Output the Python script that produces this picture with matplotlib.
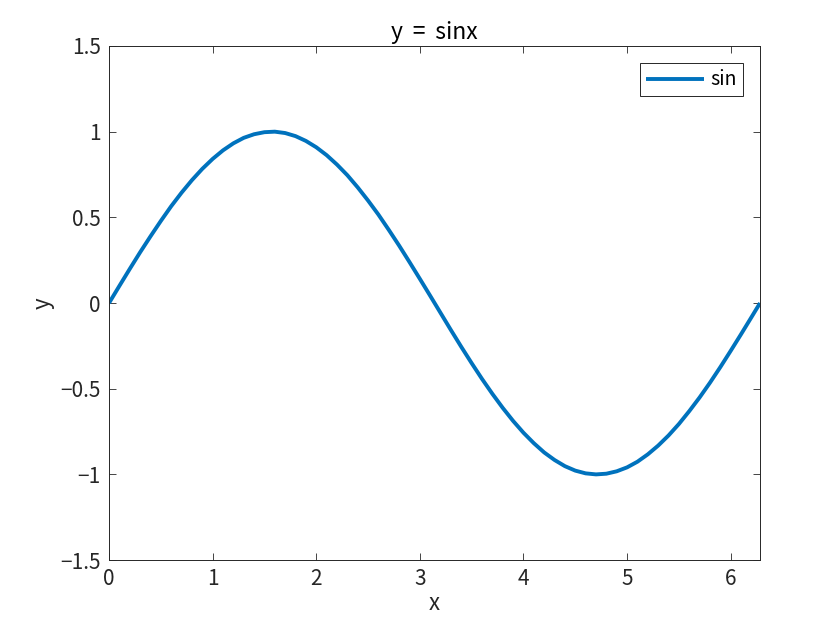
import matplotlib
matplotlib.use("Agg")
import matplotlib.pyplot as plt

plt.rcParams["font.family"] = ["Noto Sans CJK JP", "DejaVu Sans"]
plt.rcParams["axes.unicode_minus"] = True

# values (x step 0.1, last point at x = 2*pi)
x = [0.0, 0.1, 0.2, 0.3, 0.4, 0.5, 0.6, 0.7, 0.8, 0.9, 1.0, 1.1, 1.2, 1.3,
     1.4, 1.5, 1.6, 1.7, 1.8, 1.9, 2.0, 2.1, 2.2, 2.3, 2.4, 2.5, 2.6, 2.7,
     2.8, 2.9, 3.0, 3.1, 3.2, 3.3, 3.4, 3.5, 3.6, 3.7, 3.8, 3.9, 4.0, 4.1,
     4.2, 4.3, 4.4, 4.5, 4.6, 4.7, 4.8, 4.9, 5.0, 5.1, 5.2, 5.3, 5.4, 5.5,
     5.6, 5.7, 5.8, 5.9, 6.0, 6.1, 6.2, 6.2832]
y = [0.000, 0.100, 0.199, 0.296, 0.389, 0.479, 0.565, 0.644, 0.717, 0.783,
     0.841, 0.891, 0.932, 0.964, 0.985, 0.997, 1.000, 0.992, 0.974, 0.946,
     0.909, 0.863, 0.808, 0.746, 0.675, 0.598, 0.516, 0.427, 0.335, 0.239,
     0.141, 0.042, -0.058, -0.158, -0.256, -0.351, -0.443, -0.530, -0.612,
     -0.688, -0.757, -0.818, -0.872, -0.916, -0.952, -0.978, -0.994, -1.000,
     -0.996, -0.982, -0.959, -0.926, -0.883, -0.832, -0.773, -0.706, -0.631,
     -0.551, -0.465, -0.374, -0.279, -0.182, -0.083, 0.000]
xticks = [0, 1, 2, 3, 4, 5, 6]
yticks = [-1.5, -1, -0.5, 0, 0.5, 1, 1.5]
ytick_labels = ["\u22121.5", "\u22121", "\u22120.5", "0", "0.5", "1", "1.5"]

fig = plt.figure(figsize=(8.4, 6.3), dpi=100)
ax = fig.add_axes([0.1298, 0.111, 0.775, 0.816])
ax.plot(x, y, color="#0072BD", lw=2.8, label="sin", solid_capstyle="butt",
        solid_joinstyle="round")
ax.set_xlim(0, 6.2832)
ax.set_ylim(-1.5, 1.5)
ax.set_xticks(xticks)
ax.set_yticks(yticks)
ax.set_yticklabels(ytick_labels)
ax.tick_params(direction="in", length=5, width=0.6, top=True, right=True,
               labelsize=15, colors="#262626", pad=6)
for s in ax.spines.values():
    s.set_linewidth(0.7)
    s.set_color("#262626")
ax.set_xlabel("x", fontsize=16, color="#262626", labelpad=1)
ax.set_ylabel("y", fontsize=16, color="#262626", labelpad=4)
ax.set_title("y \u2009=\u2009 sinx", fontsize=16.5, color="black", pad=5)
leg = ax.legend(loc="upper right", fontsize=14, fancybox=False, framealpha=1,
                edgecolor="#262626", handlelength=3.0, handletextpad=0.3,
                borderpad=0.3, borderaxespad=0.9)
leg.get_frame().set_linewidth(0.7)
fig.savefig("out.png", dpi=100)
